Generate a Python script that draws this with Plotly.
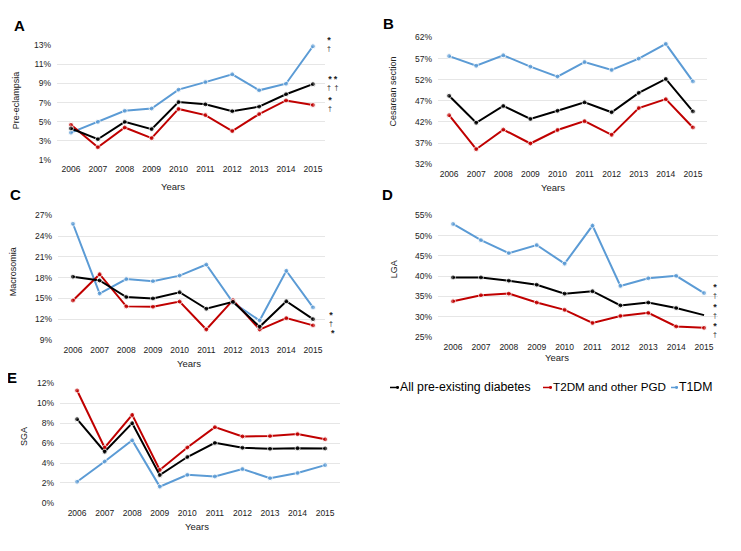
import plotly.graph_objects as go

W, H = 741, 551
OFF = 8  # default page body margin
FW, FH = W - OFF, H - OFF

years = [2006, 2007, 2008, 2009, 2010, 2011, 2012, 2013, 2014, 2015]

# ---- data (percent) ----
a_all = [4.28, 3.15, 4.97, 4.21, 7.05, 6.81, 6.09, 6.57, 7.87, 8.93]
a_t2 = [4.66, 2.30, 4.38, 3.26, 6.33, 5.68, 4.00, 5.79, 7.22, 6.74]
a_t1 = [3.84, 4.97, 6.13, 6.37, 8.35, 9.14, 9.96, 8.28, 8.97, 12.9]

b_all = [48.2, 41.8, 45.8, 42.7, 44.65, 46.65, 44.3, 48.9, 52.2, 44.5]
b_t2 = [43.6, 35.55, 40.2, 36.9, 40.1, 42.2, 38.95, 45.3, 47.4, 40.7]
b_t1 = [57.6, 55.3, 57.8, 55.1, 52.75, 56.2, 54.3, 57.0, 60.5, 51.6]

c_all = [18.14, 17.6, 15.2, 15.0, 15.9, 13.5, 14.5, 10.9, 14.6, 12.0]
c_t2 = [14.7, 18.5, 13.85, 13.8, 14.55, 10.5, 14.75, 10.5, 12.15, 11.1]
c_t1 = [25.8, 15.7, 17.8, 17.5, 18.3, 19.9, 14.4, 11.8, 19.0, 13.7]

d_all = [39.7, 39.7, 38.9, 37.9, 35.7, 36.3, 32.8, 33.5, 32.15, 30.4]
d_t2 = [33.8, 35.3, 35.7, 33.5, 31.7, 28.45, 30.2, 30.95, 27.6, 27.25]
d_t1 = [52.9, 48.9, 45.7, 47.7, 43.1, 52.5, 37.6, 39.5, 40.1, 35.85]

e_all = [8.4, 5.13, 8.0, 2.78, 4.6, 6.02, 5.53, 5.43, 5.49, 5.46]
e_t2 = [11.28, 5.53, 8.83, 3.3, 5.56, 7.6, 6.67, 6.7, 6.9, 6.38]
e_t1 = [2.12, 4.15, 6.28, 1.63, 2.81, 2.65, 3.4, 2.48, 3.0, 3.79]

series_names = ["All pre-existing diabetes", "T2DM and other PGD", "T1DM"]
y_titles = ["Pre-eclampsia", "Cesarean section", "Macrosomia", "LGA", "SGA"]
panel_letters = ["A", "B", "C", "D", "E"]

COL_ALL = "#000000"
COL_T2 = "#c00000"
COL_T1 = "#5b9bd5"
FONT = "Liberation Sans, Arial, sans-serif"


def px(x):
    return (x - OFF) / FW


def py(y):
    return 1 - (y - OFF) / FH


panels = [
    dict(data=(a_all, a_t2, a_t1), xd=(57, 325), yd=(40.7, 157.7), yr=(1, 13), dt=2, xr=(2005.48, 2015.45)),
    dict(data=(b_all, b_t2, b_t1), xd=(438, 707), yd=(32.7, 162.3), yr=(32, 62), dt=5, xr=(2005.59, 2015.52)),
    dict(data=(c_all, c_t2, c_t1), xd=(58, 325), yd=(214, 341.3), yr=(9, 27), dt=3, xr=(2005.44, 2015.45)),
    dict(data=(d_all, d_t2, d_t1), xd=(438, 718), yd=(214, 338.3), yr=(25, 55), dt=5, xr=(2005.46, 2015.5)),
    dict(data=(e_all, e_t2, e_t1), xd=(60, 340), yd=(385, 507.3), yr=(0, 12), dt=2, xr=(2005.38, 2015.54)),
]

fig = go.Figure()
layout = {}
for i, p in enumerate(panels):
    n = "" if i == 0 else str(i + 1)
    xa, ya = "x" + n, "y" + n
    all_v, t2_v, t1_v = p["data"]
    for vals, col, name in ((t1_v, COL_T1, series_names[2]), (t2_v, COL_T2, series_names[1]), (all_v, COL_ALL, series_names[0])):
        sizes = [5] * len(vals)
        if i == 3 and col == COL_ALL:
            sizes[-1] = 0
        fig.add_trace(go.Scatter(
            x=years, y=vals, mode="lines+markers", name=name, showlegend=False,
            line=dict(color=col, width=2), marker=dict(color=col, size=sizes),
            xaxis=xa, yaxis=ya, cliponaxis=False,
        ))
    lo, hi = p["yr"]
    span = hi - lo
    layout["xaxis" + n] = dict(
        domain=[px(p["xd"][0]), px(p["xd"][1])], range=list(p["xr"]), anchor=ya,
        tickmode="array", tickvals=years, ticktext=[str(y) for y in years],
        showgrid=False, zeroline=False, showline=False, ticks="",
        tickfont=dict(size=8.5, color="#222", family=FONT), ticklabelstandoff=3,
    )
    layout["yaxis" + n] = dict(
        domain=[py(p["yd"][1]), py(p["yd"][0])], range=[lo - span * 0.002, hi + span * 0.002], anchor=xa,
        tick0=lo, dtick=p["dt"], ticksuffix="%",
        showgrid=True, gridcolor="#e6e6e6", gridwidth=1, zeroline=False, showline=False, ticks="",
        tickfont=dict(size=8.5, color="#222", family=FONT), ticklabelstandoff=5,
    )

ann = []


def add_text(text, x, y, size, color="#222", angle=0, xanchor="center"):
    ann.append(dict(text=text, x=px(x), y=py(y), xref="paper", yref="paper", textangle=angle,
                    xanchor=xanchor, yanchor="middle", showarrow=False, borderpad=0,
                    font=dict(size=size, color=color, family=FONT)))


for letter, (x, y) in zip(panel_letters, [(19, 21), (388, 19), (15, 193), (387, 193), (12, 379)]):
    add_text("<b>%s</b>" % letter, x, y, 15, "#000")
for t, (x, y) in zip(y_titles, [(16, 97), (393, 88), (13, 272), (394, 269), (24, 440)]):
    add_text(t, x, y, 9, angle=-90)
for (x, y) in [(173, 185), (553, 186), (189, 365), (557, 359), (197, 531)]:
    add_text("Years", x, y, 9.5)

# significance marks: "*" over "†" stacked in one text
STAR = "<span style='font-size:9px'><b>*</b></span>"
DAG = "<span style='font-size:7px'>†</span>"
sig_marks = [
    (STAR + "<br>" + DAG, 329, 39.5),
    (STAR + " " + STAR + "<br>" + DAG + "  " + DAG, 332.5, 78.5),
    (STAR + "<br>" + DAG, 330, 100),
    (STAR + "<br>" + DAG, 331, 319.5),
    (STAR, 333, 333.5),
    (STAR + "<br>" + DAG, 715, 291),
    (STAR + "<br>" + DAG, 715, 311),
    (STAR + "<br>" + DAG, 715, 330),
]
for t, x, y in sig_marks:
    add_text(t, x, y, 6.5)

legend_items = [(series_names[0], COL_ALL, 390, 399, 12.3), (series_names[1], COL_T2, 543, 552, 11.7), (series_names[2], COL_T1, 671, 678, 12.3)]
shapes = []
for name, col, s0, s1, fs in legend_items:
    add_text(name, s1, 389, fs, "#000", xanchor="left")
    shapes.append(dict(type="line", xref="paper", yref="paper", x0=px(s0), x1=px(s1), y0=py(389.5), y1=py(389.5),
                       line=dict(color=col, width=1.5)))
    shapes.append(dict(type="circle", xref="paper", yref="paper", x0=px(s1 - 3), x1=px(s1), y0=py(391), y1=py(388),
                       fillcolor=col, line=dict(color=col, width=0)))
shapes.append(dict(type="rect", xref="paper", yref="paper", x0=px(738.5), x1=1, y0=0, y1=1,
                   fillcolor="#d9d9d9", line=dict(width=0), layer="above"))

fig.update_layout(
    width=FW, height=FH, margin=dict(l=0, r=0, t=0, b=0),
    paper_bgcolor="white", plot_bgcolor="white", showlegend=False,
    annotations=ann, shapes=shapes, font=dict(family=FONT), **layout,
)

fig.write_html("out.html")
